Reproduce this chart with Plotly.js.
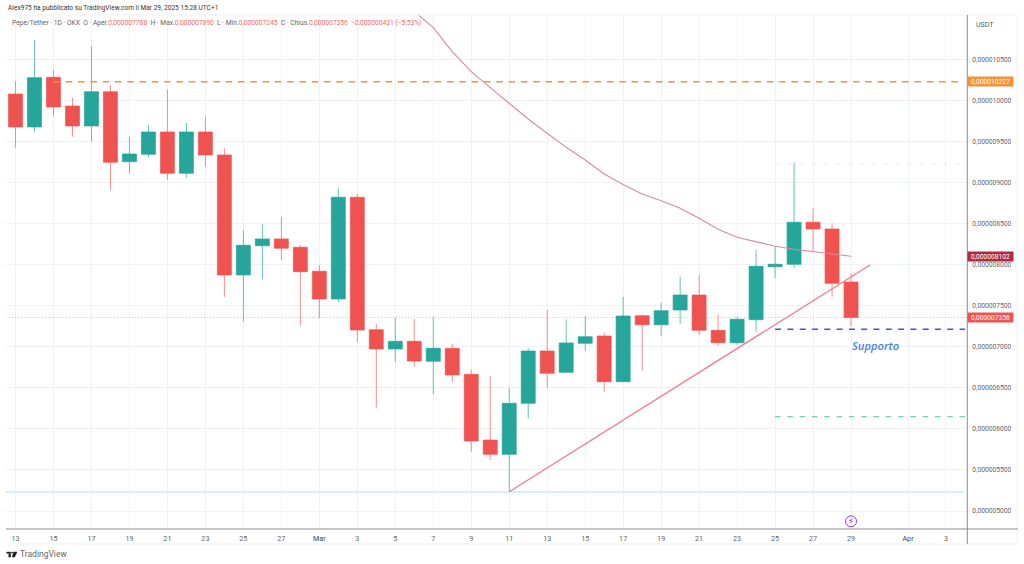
<!DOCTYPE html>
<html><head><meta charset="utf-8">
<script src="https://cdn.plot.ly/plotly-3.0.1.min.js"></script>
<style>html,body{margin:0;padding:0;background:#fff}#c{width:1024px;height:564px}</style></head>
<body><div id="c"></div>
<script>
const dates = ['2025-02-13','2025-02-14','2025-02-15','2025-02-16','2025-02-17','2025-02-18','2025-02-19','2025-02-20','2025-02-21','2025-02-22','2025-02-23','2025-02-24','2025-02-25','2025-02-26','2025-02-27','2025-02-28','2025-03-01','2025-03-02','2025-03-03','2025-03-04','2025-03-05','2025-03-06','2025-03-07','2025-03-08','2025-03-09','2025-03-10','2025-03-11','2025-03-12','2025-03-13','2025-03-14','2025-03-15','2025-03-16','2025-03-17','2025-03-18','2025-03-19','2025-03-20','2025-03-21','2025-03-22','2025-03-23','2025-03-24','2025-03-25','2025-03-26','2025-03-27','2025-03-28','2025-03-29'];
const openM  = [10.077,9.676,10.281,9.931,9.688,10.105,9.253,9.343,9.615,9.112,9.615,9.335,7.874,8.230,8.312,8.211,7.919,7.581,8.820,7.208,6.973,7.066,6.823,6.981,6.664,5.864,5.690,6.311,6.948,6.689,7.042,7.131,6.574,7.378,7.268,7.447,7.630,7.200,7.049,7.329,7.975,8.004,8.515,8.434,7.788];
const highM  = [10.236,10.735,10.370,10.032,10.662,10.187,9.557,9.700,10.135,9.724,9.801,9.416,8.421,8.491,8.583,8.239,7.995,8.929,8.860,7.277,7.354,7.338,7.354,7.033,6.725,6.644,6.501,6.981,7.447,7.334,7.374,7.171,7.609,7.395,7.536,7.853,7.874,7.395,7.366,8.178,8.218,9.246,8.686,8.503,7.890];
const lowM   = [9.424,9.618,9.801,9.557,9.497,8.908,9.112,9.307,9.030,9.058,9.192,7.609,7.305,7.821,8.056,7.256,7.346,7.541,7.054,6.258,6.811,6.757,6.421,6.567,5.722,5.621,5.235,6.129,6.494,6.689,6.952,6.453,6.574,6.708,7.131,7.277,7.143,7.013,7.021,7.183,7.833,7.955,8.157,7.609,7.245];
const closeM = [9.676,10.276,9.919,9.688,10.105,9.246,9.347,9.615,9.112,9.615,9.335,7.874,8.235,8.312,8.199,7.914,7.581,8.820,7.204,6.973,7.066,6.826,6.981,6.656,5.852,5.690,6.311,6.948,6.677,7.046,7.122,6.574,7.374,7.268,7.439,7.630,7.200,7.049,7.334,7.979,8.004,8.515,8.434,7.772,7.356];
const maDates = dates.slice(21);
const maM = [11.082,10.885,10.592,10.349,10.154,9.964,9.773,9.599,9.428,9.274,9.103,8.975,8.860,8.778,8.686,8.564,8.430,8.333,8.279,8.223,8.186,8.157,8.129,8.102];
const trendX = ['2025-03-11','2025-03-30'];
const trendM = [5.235,7.995];
const resistX = ['2025-02-15','2025-04-03 20:00'];
const resistM = [10.227,10.227];
const supportX = ['2025-03-25','2025-04-04'];
const supportM = [7.213,7.213];
const targetM = [6.148,6.148];
const highLineM = [9.225,9.225];
const baseX = ['2025-02-12 12:00','2025-04-03 22:00'];
const baseM = [5.231,5.231];
const xRange = ['2025-02-12 12:00','2025-04-04 02:33'];
const lastM = 7.356;
const yRangeM = [4.781,11.039];
const yTickM = [5,5.5,6,6.5,7,7.5,8,8.5,9,9.5,10,10.5];
const xTickVals = ['2025-02-13','2025-02-15','2025-02-17','2025-02-19','2025-02-21','2025-02-23','2025-02-25','2025-02-27','2025-03-01','2025-03-03','2025-03-05','2025-03-07','2025-03-09','2025-03-11','2025-03-13','2025-03-15','2025-03-17','2025-03-19','2025-03-21','2025-03-23','2025-03-25','2025-03-27','2025-03-29','2025-04-01','2025-04-03'];
const xTickText = ['13','15','17','19','21','23','25','27','<span style="color:#444">Mar</span>','3','5','7','9','11','13','15','17','19','21','23','25','27','29','<span style="color:#444">Apr</span>','3'];
const micro = a => a.map(v => v * 1e-6);
const RED = '#EF5350', TEAL = '#26A69A';
const FONT = 'Roboto, "Open Sans", sans-serif';
const px = x => (x - 5.5) / 961.5, py = y => (529 - y) / 514;
const line = (x, y, color, width, dash) => ({type:'scatter', mode:'lines', x, y:micro(y), hoverinfo:'skip', showlegend:false, line:{color, width, dash:dash||'solid'}});
const traces = [
  line(baseX, baseM, '#C6EAF4', 1.5),
  line(xRange, [lastM,lastM], 'rgba(239,83,80,0.4)', 1, '1px,2px'),
  line(supportX, highLineM, '#E8F0ED', 1, '5px,7px'),
  {type:'candlestick', x:dates, open:micro(openM), high:micro(highM), low:micro(lowM), close:micro(closeM), showlegend:false, hoverinfo:'skip', whiskerwidth:0,
   increasing:{line:{color:'rgba(38,166,154,0.7)', width:1}, fillcolor:TEAL},
   decreasing:{line:{color:'rgba(239,83,80,0.65)', width:1}, fillcolor:RED}},
  line(maDates, maM, '#D58C9C', 1.1),
  line(resistX, resistM, '#F39237', 1.5, '6.5px,5.8px'),
  line(trendX, trendM, '#F27C8B', 1.3),
  line(supportX, supportM, '#2F5BE0', 1.5, '6px,6.3px'),
  line(supportX, targetM, '#4FC49B', 1, '5.5px,6.8px')
];
const lab = (v, bg) => ({xref:'paper', yref:'y', x:1, y:v*1e-6, xanchor:'left', yanchor:'middle', showarrow:false,
  text:'0,' + (v/1e6).toFixed(9).slice(2), font:{family:FONT, size:6.7, color:'#fff'}, bgcolor:bg, width:45, height:9, borderpad:0, align:'center'});
const R = s => '<span style="color:#F36A68">' + s + '</span>';
const annotations = [
  {xref:'paper', yref:'paper', x:px(6), y:py(8), xanchor:'left', yanchor:'middle', showarrow:false, font:{family:FONT, size:6.6, color:'#333'}, text:'Alex975 ha pubblicato su TradingView.com il Mar 29, 2025 15:28 UTC+1'},
  {xref:'paper', yref:'paper', x:px(10), y:py(23), xanchor:'left', yanchor:'middle', showarrow:false, font:{family:FONT, size:6.7, color:'#666'},
   text:'Pepe/Tether · 1D · OKX  O · Aper.' + R('0,000007788') + '  H · Max.' + R('0,000007890') + '  L · Min.' + R('0,000007245') + '  C · Chius.' + R('0,000007356') + '  ' + R('−0,000000431 (−5,53%)')},
  {xref:'paper', yref:'paper', x:px(974), y:py(25), xanchor:'left', yanchor:'middle', showarrow:false, font:{family:FONT, size:7, color:'#555'}, text:'USDT'},
  {xref:'paper', yref:'paper', x:px(18), y:py(554), xanchor:'left', yanchor:'middle', showarrow:false, font:{family:FONT, size:8.5, color:'#666'}, text:'TradingView'},
  lab(10.227, '#F39237'), lab(8.102, '#B02B3F'), lab(7.356, '#EF5350'),
  {xref:'x', yref:'y', x:'2025-03-29', y:7.01e-6, xanchor:'left', yanchor:'middle', xshift:-1, showarrow:false, text:'Supporto', font:{family:'"Open Sans", sans-serif', size:11.2, color:'#4A7FE3', style:'italic', weight:600}},
  {xref:'x', yref:'y', x:'2025-03-29', y:4.878e-6, xanchor:'center', yanchor:'middle', showarrow:false, text:'⚡', font:{family:'"DejaVu Sans"', size:8.5, color:'#9C3FC0'}}
];
const pathRect = (x0,y0,x1,y1) => ({type:'rect', xref:'paper', yref:'paper', x0:px(x0), x1:px(x1), y0:py(y0), y1:py(y1), fillcolor:'#222', line:{width:0}});
const rule = (x0,y0,x1,y1,color,w) => ({type:'line', xref:'paper', yref:'paper', x0:px(x0), x1:px(x1), y0:py(y0), y1:py(y1), line:{color, width:w}, layer:'above'});
const shapes = [
  rule(5.5,15,1017,15,'#F1F1F1',1),
  rule(5.5,544,1017,544,'#F1F1F1',1),
  rule(1017,15,1017,544,'#F1F1F1',1),
  rule(5.5,529,1018,529,'#B0B0B0',1.5),
  rule(967.3,15,967.3,544,'#8C8C8C',1),
  {type:'circle', xref:'x', yref:'paper', xsizemode:'pixel', ysizemode:'pixel', xanchor:'2025-03-29', yanchor:py(521.3), x0:-5.5, x1:5.5, y0:-5.5, y1:5.5, line:{color:'#9C3FC0', width:1}},
  pathRect(6,551.8,10.4,553.6), pathRect(8,553.6,10.4,557.3),
  {type:'circle', xref:'paper', yref:'paper', x0:px(10.8), x1:px(12.5), y0:py(553.5), y1:py(551.8), fillcolor:'#222', line:{width:0}},
  {type:'path', xref:'paper', yref:'paper', path:`M${px(13)},${py(551.8)} L${px(16.8)},${py(551.8)} L${px(14.4)},${py(557.3)} L${px(11.4)},${py(557.3)} Z`, fillcolor:'#222', line:{width:0}}
];
const layout = {
  width:1024, height:564, paper_bgcolor:'#fff', plot_bgcolor:'#fff', separators:',.', showlegend:false, hovermode:false, boxgap:0.1, boxgroupgap:0.18,
  margin:{l:5.5, r:57, t:15, b:35, pad:0}, annotations, shapes,
  xaxis:{type:'date', range:xRange, rangeslider:{visible:false}, tickmode:'array', tickvals:xTickVals, ticktext:xTickText, tickangle:0, showgrid:true, gridcolor:'#EFF2F6', gridwidth:1, zeroline:false, showline:false, ticks:'outside', ticklen:2, tickcolor:'rgba(0,0,0,0)', tickfont:{family:FONT, size:7.2, color:'#666'}},
  yaxis:{side:'right', range:micro(yRangeM), tickmode:'array', tickvals:micro(yTickM), tickformat:'.9f', showgrid:true, gridcolor:'#EFF2F6', gridwidth:1, zeroline:false, showline:false, ticks:'outside', ticklen:3, tickcolor:'rgba(0,0,0,0)', tickfont:{family:FONT, size:6.7, color:'#666'}}
};
Plotly.newPlot('c', traces, layout, {displayModeBar:false, staticPlot:true});
</script></body></html>
